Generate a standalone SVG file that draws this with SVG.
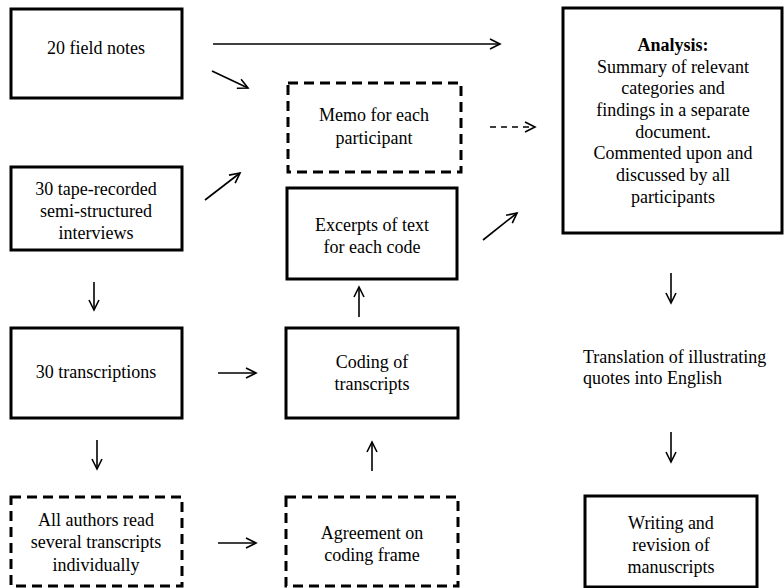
<svg xmlns="http://www.w3.org/2000/svg" width="784" height="588" viewBox="0 0 784 588">
<style>
.box{fill:#fff;stroke:#000;stroke-width:3}
.dash{fill:#fff;stroke:#000;stroke-width:3;stroke-dasharray:10 6}
text{font-family:'Liberation Serif','Times New Roman',serif;font-size:18px;fill:#000;text-anchor:middle}
.b{font-weight:bold}
.l{text-anchor:start}
.c line{stroke:#000;stroke-width:1.6;marker-end:url(#ah)}
.c line.d{stroke-dasharray:6 5}
</style>
<defs>
<marker id="ah" markerUnits="userSpaceOnUse" markerWidth="14" markerHeight="14" refX="11" refY="6" orient="auto">
<path d="M1,1 L11,6 L1,11" fill="none" stroke="#000" stroke-width="1.6"/>
</marker>
</defs>
<rect width="784" height="588" fill="#fff"/>
<g class="c" id="connectors">
<line x1="213" y1="44" x2="500" y2="44"/>
<line x1="212" y1="71" x2="248" y2="88"/>
<line x1="205" y1="200" x2="240" y2="173"/>
<line x1="490" y1="127" x2="535" y2="127" class="d"/>
<line x1="483" y1="240" x2="517" y2="213"/>
<line x1="94" y1="282" x2="94" y2="310"/>
<line x1="218" y1="373" x2="256" y2="373"/>
<line x1="97" y1="440" x2="97" y2="469"/>
<line x1="218" y1="543" x2="256" y2="543"/>
<line x1="372" y1="471" x2="372" y2="442"/>
<line x1="359" y1="317" x2="359" y2="287"/>
<line x1="671" y1="273" x2="671" y2="303"/>
<line x1="671" y1="432" x2="671" y2="462"/>
</g>
<g id="n1"><rect class="box" x="11" y="9" width="171" height="89"/><text x="96" y="54">20 field notes</text></g>
<g id="n2"><rect class="box" x="11" y="167" width="171" height="83"/><text x="96" y="195">30 tape-recorded</text><text x="96" y="217">semi-structured</text><text x="96" y="239">interviews</text></g>
<g id="n3"><rect class="box" x="11" y="328" width="171" height="90"/><text x="96" y="378">30 transcriptions</text></g>
<g id="n4"><rect class="dash" x="11" y="497" width="171" height="89"/><text x="96" y="526">All authors read</text><text x="96" y="548">several transcripts</text><text x="96" y="571">individually</text></g>
<g id="n5"><rect class="dash" x="288" y="83" width="173" height="89"/><text x="374" y="121">Memo for each</text><text x="374" y="144">participant</text></g>
<g id="n6"><rect class="box" x="287" y="188" width="170" height="91"/><text x="372" y="231">Excerpts of text</text><text x="372" y="253">for each code</text></g>
<g id="n7"><rect class="box" x="286" y="328" width="172" height="90"/><text x="372" y="368">Coding of</text><text x="372" y="390">transcripts</text></g>
<g id="n8"><rect class="dash" x="286" y="497" width="172" height="89"/><text x="372" y="539">Agreement on</text><text x="372" y="561">coding frame</text></g>
<g id="n9"><rect class="box" x="563" y="8" width="219" height="225"/>
<text class="b" x="673" y="51">Analysis:</text>
<text x="673" y="73">Summary of relevant</text>
<text x="673" y="94">categories and</text>
<text x="673" y="116">findings in a separate</text>
<text x="673" y="138">document.</text>
<text x="673" y="159">Commented upon and</text>
<text x="673" y="181">discussed by all</text>
<text x="673" y="203">participants</text></g>
<g id="n10"><text class="l" x="583" y="363">Translation of illustrating</text><text class="l" x="583" y="384">quotes into English</text></g>
<g id="n11"><rect class="box" x="585" y="496" width="172" height="91"/><text x="671" y="529">Writing and</text><text x="671" y="551">revision of</text><text x="671" y="573">manuscripts</text></g>
</svg>
